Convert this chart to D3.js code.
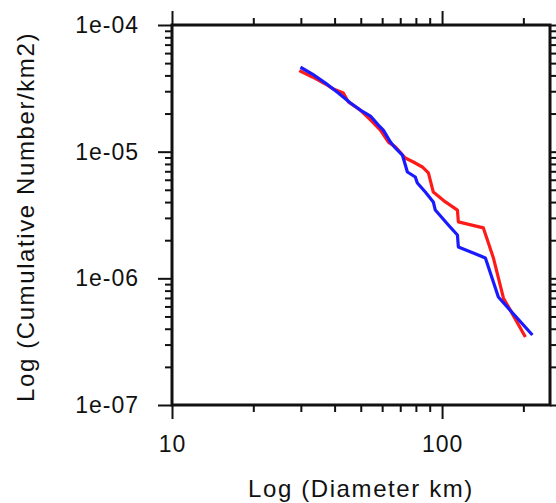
<!DOCTYPE html>
<html><head><meta charset="utf-8">
<script src="https://cdn.jsdelivr.net/npm/d3@7/dist/d3.min.js"></script>
<style>
html,body{margin:0;padding:0;background:#fff;}
text{font-family:"Liberation Sans",Arial,Helvetica,sans-serif;fill:#111;}
</style></head>
<body><svg id="c" width="556" height="503"></svg>
<script>
// Data
const blueDiam = [29.9, 33.1, 37.0, 41.3, 45.8, 49.8, 54.3, 58.1, 60.6, 64.4, 67.1, 71.3, 74.4, 79.6, 81.0, 86.7, 92.8, 94.4, 105.5, 114.0, 114.9, 144.7, 161.6, 216.0];
const blueCum  = [4.64e-5, 4.10e-5, 3.48e-5, 2.90e-5, 2.42e-5, 2.13e-5, 1.91e-5, 1.62e-5, 1.48e-5, 1.19e-5, 1.07e-5, 9.41e-6, 6.91e-6, 6.31e-6, 5.66e-6, 4.80e-6, 4.01e-6, 3.46e-6, 2.64e-6, 2.20e-6, 1.77e-6, 1.45e-6, 7.12e-7, 3.57e-7];
const redDiam  = [29.6, 33.1, 37.0, 39.6, 43.1, 45.0, 49.8, 54.3, 59.1, 63.3, 67.1, 73.1, 78.3, 84.5, 89.0, 92.8, 102.9, 114.0, 114.9, 142.2, 154.9, 168.7, 203.5];
const redCum   = [4.36e-5, 3.89e-5, 3.42e-5, 3.12e-5, 2.90e-5, 2.47e-5, 2.13e-5, 1.78e-5, 1.48e-5, 1.19e-5, 1.09e-5, 8.91e-6, 8.29e-6, 7.57e-6, 6.79e-6, 4.80e-6, 4.01e-6, 3.46e-6, 2.79e-6, 2.50e-6, 1.45e-6, 7.0e-7, 3.44e-7];
const xMajorTicks = [10, 100];
const xMinorTicks = [20, 30, 40, 50, 60, 70, 80, 90, 200];
const yMajorTicks = [1e-7, 1e-6, 1e-5, 1e-4];
const yTickLabels = ["1e-07", "1e-06", "1e-05", "1e-04"];
const xDomain = [10, 251];
const yDomain = [1e-7, 1e-4];
const xTitle = "Log (Diameter km)";
const yTitle = "Log (Cumulative Number/km2)";

const svg = d3.select("#c");
const L = 172, R = 550, T = 25, B = 405;
const x = d3.scaleLog().domain(xDomain).range([L, R]);
const y = d3.scaleLog().domain(yDomain).range([B, T]);

const yMinor = [];
for (let e = -7; e < -4; e++) for (let m = 2; m <= 9; m++) yMinor.push(m * Math.pow(10, e));

function styleAxis(g, showLabels) {
  g.select(".domain").remove();
  g.selectAll(".tick line").attr("stroke", "#111").attr("stroke-width", 2);
  if (!showLabels) g.selectAll(".tick text").remove();
}

// bottom
svg.append("g").attr("transform", `translate(0,${B})`)
  .call(d3.axisBottom(x).tickValues(xMajorTicks).tickSize(14).tickPadding(17).tickFormat(d3.format("d")))
  .call(g => { styleAxis(g, true); g.selectAll(".tick text").attr("font-size", 23).style("letter-spacing", "1px"); });
svg.append("g").attr("transform", `translate(0,${B})`)
  .call(d3.axisBottom(x).tickValues(xMinorTicks).tickSize(7))
  .call(g => styleAxis(g, false));
// top
svg.append("g").attr("transform", `translate(0,${T})`)
  .call(d3.axisTop(x).tickValues(xMajorTicks).tickSize(14))
  .call(g => styleAxis(g, false));
svg.append("g").attr("transform", `translate(0,${T})`)
  .call(d3.axisTop(x).tickValues(xMinorTicks).tickSize(7))
  .call(g => styleAxis(g, false));
// left
svg.append("g").attr("transform", `translate(${L},0)`)
  .call(d3.axisLeft(y).tickValues(yMajorTicks).tickSize(14).tickPadding(19)
    .tickFormat((d, i) => yTickLabels[i]))
  .call(g => { styleAxis(g, true); g.selectAll(".tick text").attr("font-size", 23).style("letter-spacing", "1px"); });
svg.append("g").attr("transform", `translate(${L},0)`)
  .call(d3.axisLeft(y).tickValues(yMinor).tickSize(7))
  .call(g => styleAxis(g, false));
// right
svg.append("g").attr("transform", `translate(${R},0)`)
  .call(d3.axisRight(y).tickValues(yMajorTicks).tickSize(14))
  .call(g => styleAxis(g, false));
svg.append("g").attr("transform", `translate(${R},0)`)
  .call(d3.axisRight(y).tickValues(yMinor).tickSize(7))
  .call(g => styleAxis(g, false));

// frame
svg.append("rect").attr("x", L).attr("y", T).attr("width", R - L).attr("height", B - T)
  .attr("fill", "none").attr("stroke", "#111").attr("stroke-width", 3);

const line = d3.line().x(d => x(d[0])).y(d => y(d[1]));
svg.append("path").datum(redDiam.map((d, i) => [d, redCum[i]]))
  .attr("d", line).attr("fill", "none").attr("stroke", "#ff1a1a").attr("stroke-width", 3.2).attr("stroke-linejoin", "round");
svg.append("path").datum(blueDiam.map((d, i) => [d, blueCum[i]]))
  .attr("d", line).attr("fill", "none").attr("stroke", "#1a1aff").attr("stroke-width", 3.2).attr("stroke-linejoin", "round");

// titles
svg.append("text").attr("x", (L + R) / 2).attr("y", 497).attr("text-anchor", "middle")
  .attr("font-size", 24).style("letter-spacing", "1.6px").text(xTitle);
svg.append("text").attr("transform", `translate(34,${(T + B) / 2 + 2}) rotate(-90)`).attr("text-anchor", "middle")
  .attr("font-size", 24).style("letter-spacing", "1.6px").text(yTitle);
</script></body></html>
